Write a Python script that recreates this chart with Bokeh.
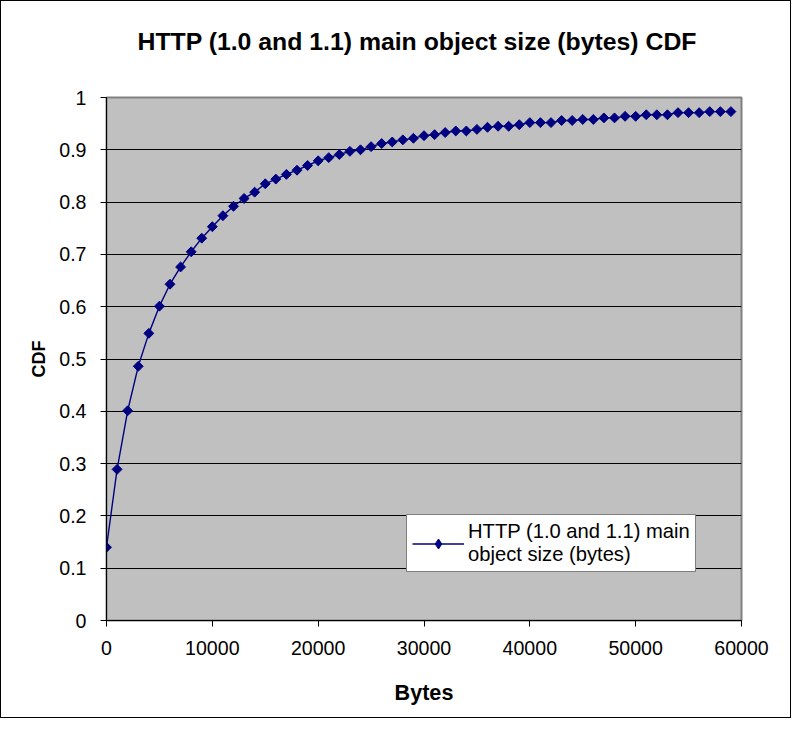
import math
from bokeh.plotting import figure
from bokeh.models import Range1d, FixedTicker, Legend, LegendItem, ColumnDataSource
from bokeh.embed import file_html
from bokeh.resources import INLINE

title_text = "HTTP (1.0 and 1.1) main object size (bytes) CDF"
series_name = "HTTP (1.0 and 1.1) main\nobject size (bytes)"
x_label = "Bytes"
y_label = "CDF"

bytes_x = [0, 1000, 2000, 3000, 4000, 5000, 6000, 7000, 8000, 9000,
           10000, 11000, 12000, 13000, 14000, 15000, 16000, 17000, 18000, 19000,
           20000, 21000, 22000, 23000, 24000, 25000, 26000, 27000, 28000, 29000,
           30000, 31000, 32000, 33000, 34000, 35000, 36000, 37000, 38000, 39000,
           40000, 41000, 42000, 43000, 44000, 45000, 46000, 47000, 48000, 49000,
           50000, 51000, 52000, 53000, 54000, 55000, 56000, 57000, 58000, 59000]
cdf = [0.140, 0.289, 0.401, 0.486, 0.549, 0.601, 0.643, 0.676, 0.705, 0.731,
       0.753, 0.774, 0.792, 0.807, 0.819, 0.835, 0.844, 0.853, 0.861, 0.870,
       0.879, 0.885, 0.891, 0.897, 0.900, 0.906, 0.912, 0.915, 0.919, 0.922,
       0.927, 0.929, 0.933, 0.936, 0.936, 0.939, 0.943, 0.945, 0.945, 0.948,
       0.952, 0.952, 0.952, 0.956, 0.956, 0.958, 0.958, 0.961, 0.961, 0.964,
       0.964, 0.967, 0.967, 0.967, 0.971, 0.971, 0.971, 0.973, 0.973, 0.973]

x_ticks = [0, 10000, 20000, 30000, 40000, 50000, 60000]
y_ticks = [0, 0.1, 0.2, 0.3, 0.4, 0.5, 0.6, 0.7, 0.8, 0.9, 1]
y_grid = [0.1, 0.2, 0.3, 0.4, 0.5, 0.6, 0.7, 0.8, 0.9]

FONT = "Liberation Sans"
NAVY = "#000080"

src = ColumnDataSource(data=dict(x=bytes_x, y=cdf))

p = figure(width=791, height=718, output_backend="svg", toolbar_location=None,
           x_range=Range1d(0, 60000), y_range=Range1d(0, 1),
           min_border_left=105, min_border_right=51,
           min_border_top=96, min_border_bottom=99,
           title=title_text + "\n")

p.background_fill_color = "#C0C0C0"
p.border_fill_color = "white"
p.outline_line_color = "#808080"
p.outline_line_width = 2
p.styles = {"border": "1px solid black"}

p.title.align = "left"
p.title.offset = 31
p.title.vertical_align = "top"
p.title.standoff = 28
p.title.text_font = FONT
p.title.text_font_size = "24.8px"
p.title.text_font_style = "bold"
p.title.text_color = "black"

line_r = p.line(x="x", y="y", source=src, line_color=NAVY, line_width=1.4)
pts_r = p.scatter(x="x", y="y", source=src, marker="square", size=7,
                  angle=math.pi / 4, fill_color=NAVY, line_color=NAVY)
# hidden renderer used only for the legend's diamond symbol
legend_marker = p.scatter(x="x", y="y", source=src, marker="diamond", size=10,
                          fill_color=NAVY, line_color=NAVY, visible=False)

p.xgrid.visible = False
p.ygrid.ticker = FixedTicker(ticks=y_grid)
p.ygrid.grid_line_color = "black"
p.ygrid.grid_line_width = 1

p.xaxis.ticker = FixedTicker(ticks=x_ticks)
p.yaxis.ticker = FixedTicker(ticks=y_ticks)
p.yaxis.major_label_overrides = {0: "0", 1: "1"}

for ax in (p.xaxis[0], p.yaxis[0]):
    ax.axis_line_color = "black"
    ax.axis_line_width = 1
    ax.major_tick_line_color = "black"
    ax.major_tick_in = 0
    ax.major_tick_out = 6
    ax.minor_tick_line_color = None
    ax.major_label_text_font = FONT
    ax.major_label_text_font_size = "19.6px"
    ax.major_label_text_color = "black"
    ax.axis_label_text_font = FONT
    ax.axis_label_text_font_style = "bold"
    ax.axis_label_text_color = "black"

p.xaxis.axis_label = x_label
p.yaxis.axis_label = y_label
p.xaxis.axis_label_text_font_size = "21.6px"
p.yaxis.axis_label_text_font_size = "18px"
p.xaxis.major_label_standoff = 14
p.xaxis.axis_label_standoff = 22
p.yaxis.major_label_standoff = 14
p.yaxis.axis_label_standoff = 7

legend = Legend(items=[LegendItem(label=series_name, renderers=[line_r, legend_marker])],
                location=(300, 48))
legend.label_text_font = FONT
legend.label_text_font_size = "20.2px"
legend.label_text_color = "black"
legend.label_text_line_height = 1.22
legend.border_line_color = "black"
legend.border_line_width = 1
legend.background_fill_color = "white"
legend.background_fill_alpha = 1
legend.padding = 5
legend.spacing = 0
legend.glyph_width = 52
legend.glyph_height = 25
legend.label_standoff = 4
legend.margin = 0
p.add_layout(legend, "center")

open("out.html", "w").write(file_html(p, INLINE))
